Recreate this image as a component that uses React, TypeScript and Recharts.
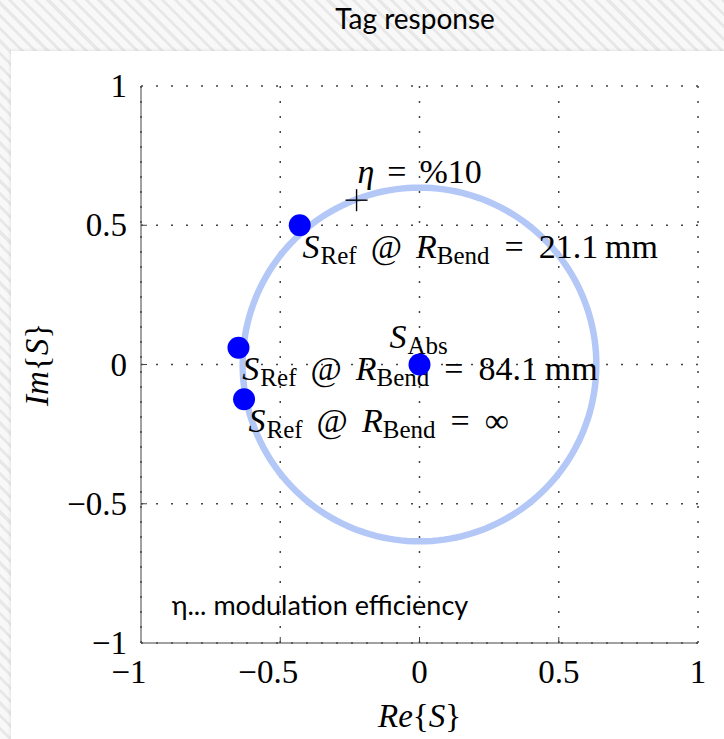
import React from 'react'
import { ScatterChart, Scatter, XAxis, YAxis, CartesianGrid, Label } from 'recharts'

// axis ticks
const xTicks = [-1, -0.5, 0, 0.5, 1]
const yTicks = [-1, -0.5, 0, 0.5, 1]

// modulation circle around S_Abs
const circleRadius = 0.635
const circleSteps = 180

// measured points
const refPoints = [
  { x: -0.43, y: 0.5 },
  { x: -0.65, y: 0.06 },
  { x: -0.63, y: -0.125 },
]
const absPoint = [{ x: 0, y: 0 }]
const etaMark = [{ x: -0.226, y: 0.59 }]

// annotations (anchor = start of text baseline, in data units)
const bendValues = ['21.1\u2009mm', '84.1\u2009mm', '\u221e']
const bendAnchors = [
  { x: -0.42, y: 0.384 },
  { x: -0.636, y: -0.054 },
  { x: -0.614, y: -0.241 },
]
const absAnchor = [{ x: -0.108, y: 0.061 }]
const etaAnchor = [{ x: -0.223, y: 0.653 }]
const noteAnchor = [{ x: -0.89, y: -0.9 }]
const etaText = '%10'
const noteText = 'η... modulation efficiency'

const circlePts = Array.from({ length: circleSteps + 1 }, (_, i) => {
  const a = (2 * Math.PI * i) / circleSteps
  return { x: circleRadius * Math.cos(a), y: circleRadius * Math.sin(a) }
})

const serif = '"Liberation Serif", "DejaVu Serif", serif'
const sans = 'Lato, "Open Sans", sans-serif'
const axisColor = '#444'

const fmt = (v: number) => (v < 0 ? '\u2212' + Math.abs(v) : String(v))

const BottomTick = ({ x, y, payload }: any) => {
  const v = payload.value
  return (
    <g>
      {Math.abs(v) < 1 && <line x1={x} x2={x} y1={y} y2={y - 6} stroke={axisColor} />}
      <text x={v < 0 ? x - 12 : x} y={y + 40} textAnchor="middle" fontFamily={serif} fontSize={33} fill="#000">
        {fmt(v)}
      </text>
    </g>
  )
}

const TopTick = ({ x, y, payload }: any) =>
  Math.abs(payload.value) < 1 ? <line x1={x} x2={x} y1={y} y2={y + 6} stroke={axisColor} /> : <g />

const LeftTick = ({ x, y, payload }: any) => {
  const v = payload.value
  return (
    <g>
      {Math.abs(v) < 1 && <line x1={x} x2={x + 6} y1={y} y2={y} stroke={axisColor} />}
      <text x={x - 14} y={y + 11} textAnchor="end" fontFamily={serif} fontSize={33} fill="#000">
        {fmt(v)}
      </text>
    </g>
  )
}

const RightTick = ({ x, y, payload }: any) =>
  Math.abs(payload.value) < 1 ? <line x1={x} x2={x - 6} y1={y} y2={y} stroke={axisColor} /> : <g />

const ImLabel = ({ viewBox }: any) => {
  const cx = viewBox.x + 37
  const cy = viewBox.y + viewBox.height / 2
  return (
    <text x={cx} y={cy + 11} transform={`rotate(-90 ${cx} ${cy})`} textAnchor="middle" fontFamily={serif} fontSize={33} fill="#000">
      <tspan fontStyle="italic">Im</tspan>
      <tspan>{'{'}</tspan>
      <tspan fontStyle="italic">S</tspan>
      <tspan>{'}'}</tspan>
    </text>
  )
}

const ReLabel = ({ viewBox }: any) => (
  <text x={viewBox.x + viewBox.width / 2} y={viewBox.y + 84} textAnchor="middle" fontFamily={serif} fontSize={33} fill="#000">
    <tspan fontStyle="italic">Re</tspan>
    <tspan>{'{'}</tspan>
    <tspan fontStyle="italic">S</tspan>
    <tspan>{'}'}</tspan>
  </text>
)

const bendLabel = (value: string) => (p: any) => (
  <text x={p.cx} y={p.cy} fontFamily={serif} fontSize={34} fill="#000">
    <tspan fontStyle="italic">S</tspan>
    <tspan fontSize={25} dy={6} dx={1}>Ref</tspan>
    <tspan dy={-6} dx={14}>@</tspan>
    <tspan dx={14} fontStyle="italic">R</tspan>
    <tspan fontSize={25} dy={6}>Bend</tspan>
    <tspan dy={-6} dx={15}>=</tspan>
    <tspan dx={15}>{value}</tspan>
  </text>
)

const AbsLabel = (p: any) => (
  <text x={p.cx} y={p.cy} fontFamily={serif} fontSize={34} fill="#000">
    <tspan fontStyle="italic">S</tspan>
    <tspan fontSize={25} dy={6} dx={1}>Abs</tspan>
  </text>
)

const EtaLabel = (p: any) => (
  <text x={p.cx} y={p.cy} fontFamily={serif} fontSize={34} fill="#000">
    <tspan fontStyle="italic">η</tspan>
    <tspan dx={13}>=</tspan>
    <tspan dx={13}>{etaText}</tspan>
  </text>
)

const NoteLabel = (p: any) => (
  <text x={p.cx} y={p.cy} fontFamily={sans} fontSize={27} fill="#000">
    {noteText}
  </text>
)

const BlueDot = (p: any) => <circle cx={p.cx} cy={p.cy} r={11} fill="#0000ff" />

const Cross = (p: any) => (
  <g stroke="#000" strokeWidth={1.4}>
    <line x1={p.cx - 11} x2={p.cx + 11} y1={p.cy} y2={p.cy} />
    <line x1={p.cx} x2={p.cx} y1={p.cy - 11} y2={p.cy + 11} />
  </g>
)

const Nothing = () => <g />

export default function App() {
  return (
    <div
      style={{
        position: 'absolute',
        left: 0,
        top: 0,
        width: 724,
        height: 739,
        overflow: 'hidden',
        background: 'repeating-linear-gradient(45deg, #f8f8f8 0px, #f8f8f8 6px, #e8e8e8 6px, #e8e8e8 9px)',
      }}
    >
      <div
        style={{
          position: 'absolute',
          left: 315,
          top: 4,
          width: 200,
          textAlign: 'center',
          fontFamily: sans,
          fontSize: 28,
          lineHeight: '28px',
          color: '#000',
        }}
      >
        Tag response
      </div>
      <div
        style={{
          position: 'absolute',
          left: 11,
          top: 51,
          right: 0,
          bottom: 0,
          background: '#fff',
          boxShadow: '0 0 4px rgba(0,0,0,0.12)',
        }}
      />
      <div style={{ position: 'absolute', left: 0, top: 0 }}>
        <ScatterChart width={724} height={739} margin={{ top: 86, right: 26, bottom: 0, left: 0 }}>
          <CartesianGrid stroke={axisColor} strokeWidth={1.5} strokeDasharray="2 13" />
          <XAxis
            type="number"
            dataKey="x"
            domain={[-1, 1]}
            ticks={xTicks}
            height={96}
            tickSize={0}
            tickMargin={0}
            tickLine={false}
            tick={BottomTick}
            axisLine={{ stroke: axisColor }}
          >
            <Label content={ReLabel} />
          </XAxis>
          <XAxis
            xAxisId="top"
            orientation="top"
            type="number"
            dataKey="x"
            domain={[-1, 1]}
            ticks={xTicks}
            height={0}
            tickSize={0}
            tickMargin={0}
            tickLine={false}
            tick={TopTick}
            axisLine={{ stroke: axisColor }}
          />
          <YAxis
            type="number"
            dataKey="y"
            domain={[-1, 1]}
            ticks={yTicks}
            width={141}
            tickSize={0}
            tickMargin={0}
            tickLine={false}
            tick={LeftTick}
            axisLine={{ stroke: axisColor }}
          >
            <Label content={ImLabel} />
          </YAxis>
          <YAxis
            yAxisId="right"
            orientation="right"
            type="number"
            dataKey="y"
            domain={[-1, 1]}
            ticks={yTicks}
            width={0}
            tickSize={0}
            tickMargin={0}
            tickLine={false}
            tick={RightTick}
            axisLine={{ stroke: axisColor }}
          />
          <Scatter
            data={circlePts}
            line={{ stroke: '#b4c8f8', strokeWidth: 6.5 }}
            lineType="joint"
            shape={Nothing}
            isAnimationActive={false}
          />
          <Scatter data={etaMark} shape={Cross} isAnimationActive={false} />
          {bendValues.map((v, i) => (
            <Scatter key={v} data={[bendAnchors[i]]} shape={bendLabel(v)} isAnimationActive={false} />
          ))}
          <Scatter data={absAnchor} shape={AbsLabel} isAnimationActive={false} />
          <Scatter data={etaAnchor} shape={EtaLabel} isAnimationActive={false} />
          <Scatter data={noteAnchor} shape={NoteLabel} isAnimationActive={false} />
          <Scatter data={refPoints} shape={BlueDot} isAnimationActive={false} />
          <Scatter data={absPoint} shape={BlueDot} isAnimationActive={false} />
        </ScatterChart>
      </div>
    </div>
  )
}
